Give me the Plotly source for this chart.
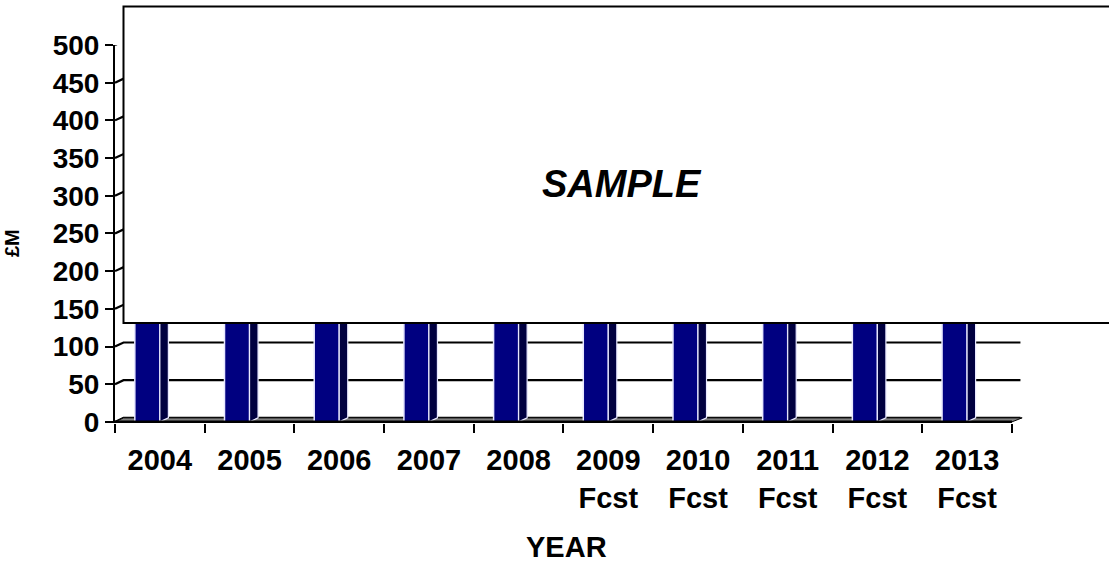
import plotly.graph_objects as go

# ---- data ----
years = ["2004", "2005", "2006", "2007", "2008",
         "2009 Fcst", "2010 Fcst", "2011 Fcst", "2012 Fcst", "2013 Fcst"]
values = [230, 245, 260, 270, 285, 295, 305, 315, 325, 335]  # hidden behind the SAMPLE panel (estimated)
y_ticks = [0, 50, 100, 150, 200, 250, 300, 350, 400, 450, 500]

# ---- 3D styling (depth in data units) ----
DX = 0.095
DY = 5.3
FRONT_W = 0.279
FONT = "Liberation Sans, Arial, sans-serif"

idx = list(range(len(years)))
ticktext = [y.replace(" ", "<br>") for y in years]
n = len(years)

fig = go.Figure()

# back wall grid lines + left wall connectors (layer below bars)
gx, gy = [], []
for v in y_ticks:
    gx += [-0.5, -0.5 + DX, n - 0.5 + DX, None]
    gy += [v, v + DY, v + DY, None]
fig.add_trace(go.Scatter(x=gx, y=gy, mode="lines", line=dict(color="black", width=2.2),
                         hoverinfo="skip", showlegend=False, xaxis="x", yaxis="y"))

# floor
fig.add_trace(go.Scatter(x=[-0.5, n - 0.5, n - 0.5 + DX * 1.2, -0.5 + DX, -0.5],
                         y=[0, 0, DY, DY, 0], mode="lines", fill="toself",
                         fillcolor="#808080", line=dict(color="black", width=1),
                         hoverinfo="skip", showlegend=False, xaxis="x", yaxis="y"))

# bars (front faces)
fig.add_trace(go.Bar(x=idx, y=values, offset=-FRONT_W, width=FRONT_W,
                     marker=dict(color="#000080", line=dict(color="#E8E8FF", width=1.5)),
                     showlegend=False, xaxis="x2", yaxis="y2"))

# bar side faces
sx, sy = [], []
for i, v in zip(idx, values):
    sx += [i, i + DX, i + DX, i, i, None]
    sy += [0, DY, v + DY, v, 0, None]
fig.add_trace(go.Scatter(x=sx, y=sy, mode="lines", fill="toself", fillcolor="#000040",
                         line=dict(color="#E8E8FF", width=1.2),
                         hoverinfo="skip", showlegend=False, xaxis="x2", yaxis="y2"))

# x axis baseline
fig.add_trace(go.Scatter(x=[-0.5, n - 0.5], y=[0, 0], mode="lines",
                         line=dict(color="black", width=2.5),
                         hoverinfo="skip", showlegend=False, xaxis="x2", yaxis="y2"))

xr = [-0.5, n - 0.5 + DX * 1.3]
yr = [-1.5, 500]

fig.update_layout(
    width=1109, height=563,
    margin=dict(l=115, r=1109 - 115 - 908, t=45, b=140),
    paper_bgcolor="white", plot_bgcolor="white",
    font=dict(family=FONT, color="black"),
    barmode="overlay",
    xaxis=dict(range=xr, tickvals=idx, ticktext=ticktext, showgrid=False, zeroline=False,
               showline=False, ticks="outside", ticklen=8, tickcolor="rgba(0,0,0,0)",
               ticklabelstandoff=3,
               tickfont=dict(family=FONT, size=29, weight="bold", color="black"),
               minor=dict(tickvals=[i - 0.5 for i in range(n + 1)], ticks="outside",
                          ticklen=9, tickwidth=2, tickcolor="black", showgrid=False)),
    yaxis=dict(range=yr, tickvals=y_ticks, showgrid=False, zeroline=False,
               showline=True, linecolor="black", linewidth=2,
               ticks="outside", ticklen=8, tickwidth=2, tickcolor="black",
               ticklabelstandoff=0,
               tickfont=dict(family=FONT, size=28, weight="bold", color="black")),
    xaxis2=dict(range=xr, overlaying="x", matches="x", visible=False, anchor="y2"),
    yaxis2=dict(range=yr, overlaying="y", matches="y", visible=False, anchor="x2"),
    shapes=[dict(type="rect", xref="paper", yref="paper",
                 x0=0.00936, x1=1.2, y0=0.2647, y1=1.1018,
                 line=dict(color="black", width=2), fillcolor="white", layer="above")],
    annotations=[
        dict(text="SAMPLE", xref="paper", yref="paper", x=0.558, y=0.632,
             xanchor="center", yanchor="middle", showarrow=False,
             font=dict(family=FONT, size=38, weight="bold", style="italic", color="black")),
        dict(text="£M", xref="paper", yref="paper", x=-0.1134, y=0.476, textangle=-90,
             xanchor="center", yanchor="middle", showarrow=False,
             font=dict(family=FONT, size=20, weight="bold", color="black")),
        dict(text="YEAR", xref="paper", yref="paper", x=0.4967, y=-0.3277,
             xanchor="center", yanchor="middle", showarrow=False,
             font=dict(family=FONT, size=29, weight="bold", color="black")),
    ],
)

fig.write_html("out.html", config={"displayModeBar": False},
               post_script="document.body.style.margin='0';")
